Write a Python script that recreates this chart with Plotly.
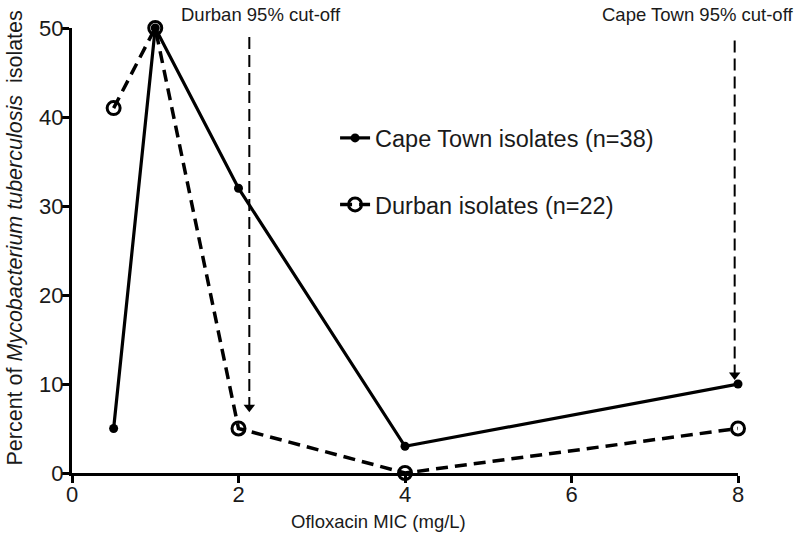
import plotly.graph_objects as go

# Data
mic = [0.5, 1, 2, 4, 8]
cape_town = [5, 50, 32, 3, 10]
durban = [41, 50, 5, 0, 5]

# Cut-off markers
cutoff_labels = ["Durban 95% cut-off", "Cape Town 95% cut-off"]
cutoff_x = [2.13, 7.96]
cutoff_top = [49, 48.6]
cutoff_tip = [7.4, 11.0]

x_ticks = [0, 2, 4, 6, 8]
y_ticks = [0, 10, 20, 30, 40, 50]

FONT = "Liberation Sans, Arial, sans-serif"
TXT = "#1a1a1a"

fig = go.Figure()

fig.add_trace(go.Scatter(
    x=mic, y=cape_town, mode="lines+markers",
    name="Cape Town isolates (n=38)",
    line=dict(color="black", width=3.2),
    marker=dict(symbol="circle", size=9, color="black"),
    cliponaxis=False, legendgroup="a",
))
fig.add_trace(go.Scatter(
    x=mic, y=durban, mode="lines+markers",
    name="Durban isolates (n=22)",
    line=dict(color="black", width=3.5, dash="12px,7px"),
    marker=dict(symbol="circle-open", size=13, color="black", line=dict(width=3)),
    cliponaxis=False, legendgroup="b",
))

for cx, top, tip in zip(cutoff_x, cutoff_top, cutoff_tip):
    fig.add_trace(go.Scatter(
        x=[cx, cx], y=[top, tip], mode="lines",
        line=dict(color="black", width=2, dash="12px,6px"),
        showlegend=False, hoverinfo="skip", cliponaxis=False,
    ))
    fig.add_trace(go.Scatter(
        x=[cx], y=[tip], mode="markers",
        marker=dict(symbol="triangle-down", size=10, color="black"),
        showlegend=False, hoverinfo="skip", cliponaxis=False,
    ))

fig.add_annotation(x=cutoff_x[0], xshift=12, y=1.0, yref="paper", yshift=14, text=cutoff_labels[0],
                   showarrow=False, xanchor="center", yanchor="middle",
                   font=dict(size=18.5, color=TXT, family=FONT))
fig.add_annotation(x=cutoff_x[1], xshift=-37, y=1.0, yref="paper", yshift=14, text=cutoff_labels[1],
                   showarrow=False, xanchor="center", yanchor="middle",
                   font=dict(size=18.5, color=TXT, family=FONT))

# Axis titles
fig.add_annotation(x=0.5, xref="paper", xshift=-27, y=0, yref="paper", yshift=-48,
                   text="Ofloxacin MIC (mg/L)", showarrow=False,
                   xanchor="center", yanchor="middle",
                   font=dict(size=18.5, color=TXT, family=FONT))
fig.add_annotation(x=0, xref="paper", xshift=-58, y=0.5, yref="paper", yshift=12,
                   text="Percent of <i>Mycobacterium tuberculosis</i>  isolates", showarrow=False,
                   textangle=-90, xanchor="center", yanchor="middle",
                   font=dict(size=21.5, color=TXT, family=FONT))

fig.update_layout(
    width=800, height=534,
    margin=dict(l=72, r=62, t=28, b=61),
    paper_bgcolor="white", plot_bgcolor="white",
    font=dict(family=FONT, color=TXT),
    legend=dict(x=0.395, y=0.802, xanchor="left", yanchor="top",
                font=dict(size=23.5, color=TXT, family=FONT),
                tracegroupgap=33, traceorder="grouped",
                bgcolor="rgba(0,0,0,0)"),
    xaxis=dict(range=[0, 8], tickvals=x_ticks, showline=True, linecolor="black", linewidth=3,
               ticks="outside", ticklen=7, tickwidth=3, tickcolor="black",
               ticklabelstandoff=-7,
               showgrid=False, zeroline=False, automargin=False,
               tickfont=dict(size=22, color=TXT)),
    yaxis=dict(range=[0, 50], tickvals=y_ticks, showline=True, linecolor="black", linewidth=3,
               ticks="outside", ticklen=7, tickwidth=3, tickcolor="black",
               ticklabelstandoff=-6,
               showgrid=False, zeroline=False, automargin=False,
               tickfont=dict(size=22, color=TXT)),
)

fig.write_html("out.html", config={"displayModeBar": False},
               post_script="document.body.style.margin='0';")
